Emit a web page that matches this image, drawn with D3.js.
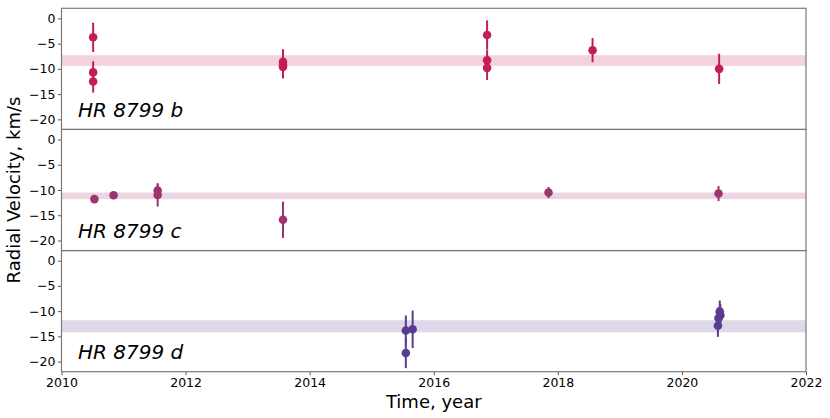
<!DOCTYPE html>
<html>
<head>
<meta charset="utf-8">
<script src="https://cdn.jsdelivr.net/npm/d3@7"></script>
<style>
  body { margin: 0; background: #fff; }
  text { font-family: "DejaVu Sans", sans-serif; }
</style>
</head>
<body>
<div id="chart"></div>
<script>
// Data -------------------------------------------------------
const planets = ["HR 8799 b", "HR 8799 c", "HR 8799 d"];
const colors = ["#c41c5a", "#9c3470", "#5b3b8f"];

// epochs (decimal year), radial velocity and error (km/s)
const bYear = [2010.51, 2010.51, 2010.51, 2013.57, 2013.57, 2013.57, 2016.86, 2016.86, 2016.86, 2018.56, 2020.60];
const bRV   = [-3.75, -10.7, -12.5, -8.6, -9.25, -9.6, -3.3, -8.3, -9.8, -6.3, -10.0];
const bErr  = [2.9, 2.2, 2.2, 2.5, 2.5, 2.3, 2.9, 2.0, 2.4, 2.4, 3.0];

const cYear = [2010.53, 2010.84, 2011.55, 2011.55, 2013.57, 2017.85, 2020.59];
const cRV   = [-11.8, -11.05, -10.1, -11.0, -15.9, -10.5, -10.7];
const cErr  = [0.7, 0.7, 1.4, 2.3, 3.6, 1.1, 1.5];

const dYear = [2015.55, 2015.55, 2015.66, 2020.61, 2020.62, 2020.59, 2020.58];
const dRV   = [-13.85, -18.3, -13.6, -10.1, -10.8, -11.4, -12.9];
const dErr  = [3.0, 3.0, 3.7, 2.2, 2.2, 2.2, 2.2];

// mean RV bands [low, high]
const bands = [[-9.4, -7.3], [-11.8, -10.5], [-14.2, -11.8]];

const xTicks = [2010, 2012, 2014, 2016, 2018, 2020, 2022];
const yTicks = [0, -5, -10, -15, -20];

// Layout ------------------------------------------------------
const W = 830, H = 418;
const margin = {top: 8.3, right: 24, bottom: 46.3, left: 61.5};
const plotW = W - margin.left - margin.right;
const panelH = (H - margin.top - margin.bottom) / 3;

const x = d3.scaleLinear().domain([2010, 2022]).range([0, plotW]);
const y = d3.scaleLinear().domain([-22, 2]).range([panelH, 0]);
const fmt = d => (d < 0 ? "\u2212" + Math.abs(d) : d);

const svg = d3.select("#chart").append("svg")
    .attr("width", W)
    .attr("height", H);

const series = [
  {year: bYear, rv: bRV, err: bErr},
  {year: cYear, rv: cRV, err: cErr},
  {year: dYear, rv: dRV, err: dErr}
];

series.forEach((s, i) => {
  const g = svg.append("g")
      .attr("transform", `translate(${margin.left},${margin.top + i * panelH})`);
  const col = colors[i];

  // band
  g.append("rect")
      .attr("x", 0)
      .attr("width", plotW)
      .attr("y", y(bands[i][1]))
      .attr("height", y(bands[i][0]) - y(bands[i][1]))
      .attr("fill", col)
      .attr("fill-opacity", 0.2);

  const pts = s.year.map((yr, j) => ({yr, rv: s.rv[j], err: s.err[j]}));

  // error bars
  g.selectAll("line.err").data(pts).join("line")
      .attr("class", "err")
      .attr("x1", d => x(d.yr)).attr("x2", d => x(d.yr))
      .attr("y1", d => y(d.rv - d.err)).attr("y2", d => y(d.rv + d.err))
      .attr("stroke", col)
      .attr("stroke-width", 2);

  g.selectAll("circle").data(pts).join("circle")
      .attr("cx", d => x(d.yr))
      .attr("cy", d => y(d.rv))
      .attr("r", 4.3)
      .attr("fill", col);

  // axes
  const yAxis = g.append("g")
      .call(d3.axisLeft(y).tickValues(yTicks).tickFormat(fmt).tickSizeOuter(0).tickSize(3.5).tickPadding(2.5));
  yAxis.select(".domain").remove();
  yAxis.selectAll("line").attr("stroke", "#555");
  yAxis.selectAll("text").attr("font-size", 12.5).attr("fill", "#000")
      .style("font-family", "'DejaVu Sans', sans-serif");

  if (i === 2) {
    const xAxis = g.append("g")
        .attr("transform", `translate(0,${panelH})`)
        .call(d3.axisBottom(x).tickValues(xTicks).tickFormat(d3.format("d")).tickSizeOuter(0).tickSize(3.5).tickPadding(3));
    xAxis.select(".domain").remove();
    xAxis.selectAll("line").attr("stroke", "#555");
    xAxis.selectAll("text").attr("font-size", 12.5).attr("fill", "#000")
        .style("font-family", "'DejaVu Sans', sans-serif");
  }

  // frame
  g.append("rect")
      .attr("width", plotW)
      .attr("height", panelH)
      .attr("fill", "none")
      .attr("stroke", "#7a7a7a")
      .attr("stroke-width", 1.2);

  // panel label
  g.append("text")
      .attr("x", 16.5)
      .attr("y", panelH - 12.5)
      .attr("font-size", 20)
      .attr("font-style", "italic")
      .attr("fill", "#000")
      .text(planets[i]);
});

// axis titles
svg.append("text")
    .attr("x", margin.left + plotW / 2)
    .attr("y", H - 10)
    .attr("text-anchor", "middle")
    .attr("font-size", 18)
    .text("Time, year");

svg.append("text")
    .attr("transform", `translate(20,${margin.top + 1.5 * panelH}) rotate(-90)`)
    .attr("text-anchor", "middle")
    .attr("font-size", 18)
    .text("Radial Velocity, km/s");
</script>
</body>
</html>
